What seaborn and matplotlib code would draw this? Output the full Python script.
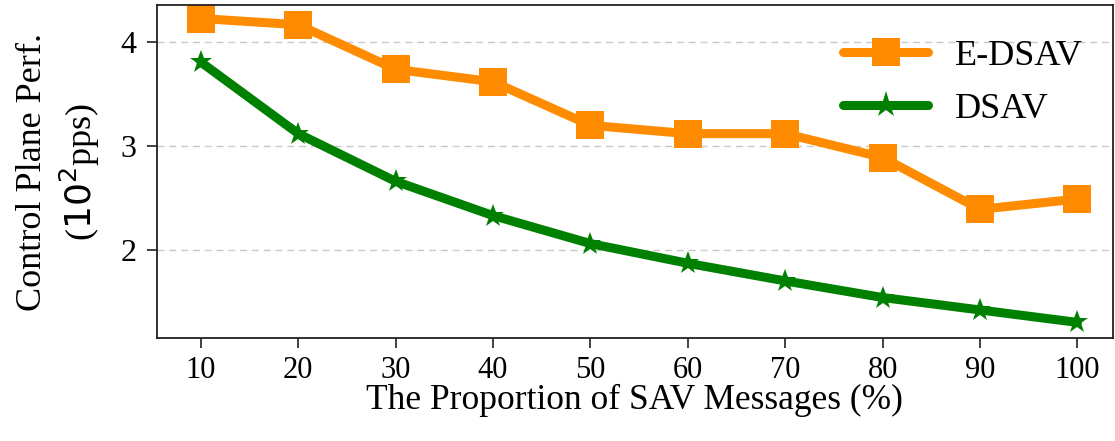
import pandas as pd
import seaborn as sns
import matplotlib.pyplot as plt

proporcao = [10, 20, 30, 40, 50, 60, 70, 80, 90, 100]
e_dsav = [4.23, 4.17, 3.74, 3.62, 3.20, 3.12, 3.12, 2.89, 2.39, 2.49]
dsav = [3.81, 3.12, 2.66, 2.33, 2.06, 1.87, 1.70, 1.54, 1.42, 1.30]

tabela = pd.DataFrame({"x": proporcao * 2,
                       "y": e_dsav + dsav,
                       "metodo": ["E-DSAV"] * 10 + ["DSAV"] * 10})

sns.set_theme(style="ticks")
plt.rcParams['font.family'] = ['Liberation Serif', 'DejaVu Serif']
plt.rcParams['mathtext.fontset'] = 'dejavusans'
plt.rcParams['text.color'] = 'black'
plt.rcParams['axes.labelcolor'] = 'black'

fig = plt.figure(figsize=(11.15, 4.41), dpi=100)
ax = fig.add_axes([0.1408, 0.2336, 0.857, 0.755])

grafico = sns.lineplot(data=tabela, x="x", y="y", hue="metodo", style="metodo",
                       palette=["darkorange", "green"], markers=["s", "*"], dashes=False,
                       linewidth=6.5, markersize=20, markeredgewidth=0, ax=ax)
# estrela um pouco menor que o quadrado
for linha, ms in zip(ax.get_lines()[:2], [20, 17]):
    linha.set_markersize(ms)

ax.set_xlim(5.5, 103.6)
ax.set_ylim(1.15, 4.36)
ax.set_xticks(proporcao)
ax.set_yticks([2, 3, 4])
ax.yaxis.grid(True, linestyle=(0, (5, 3.5)), color="#c8c8c8", linewidth=1)
ax.set_axisbelow(True)
ax.tick_params(labelsize=22, length=7, width=1.2, colors="#222222", labelcolor="black")
ax.tick_params(axis="y", pad=8, labelsize=23)
ax.tick_params(axis="x", pad=6)
for s in ax.spines.values():
    s.set_linewidth(1.3)
    s.set_color("#222222")

ax.set_xlabel("The Proportion of SAV Messages (%)", fontsize=25.5, labelpad=-1)
ax.set_ylabel("Control Plane Perf.\n($10^2$pps)", fontsize=26, linespacing=1.25)
ax.yaxis.set_label_coords(-0.058, 0.5)

leg = ax.legend(fontsize=26, frameon=False, loc="upper left",
                bbox_to_anchor=(0.684, 0.994), handlelength=2.35,
                handletextpad=0.75, labelspacing=0.55)

plt.savefig("out.png", dpi=100)
